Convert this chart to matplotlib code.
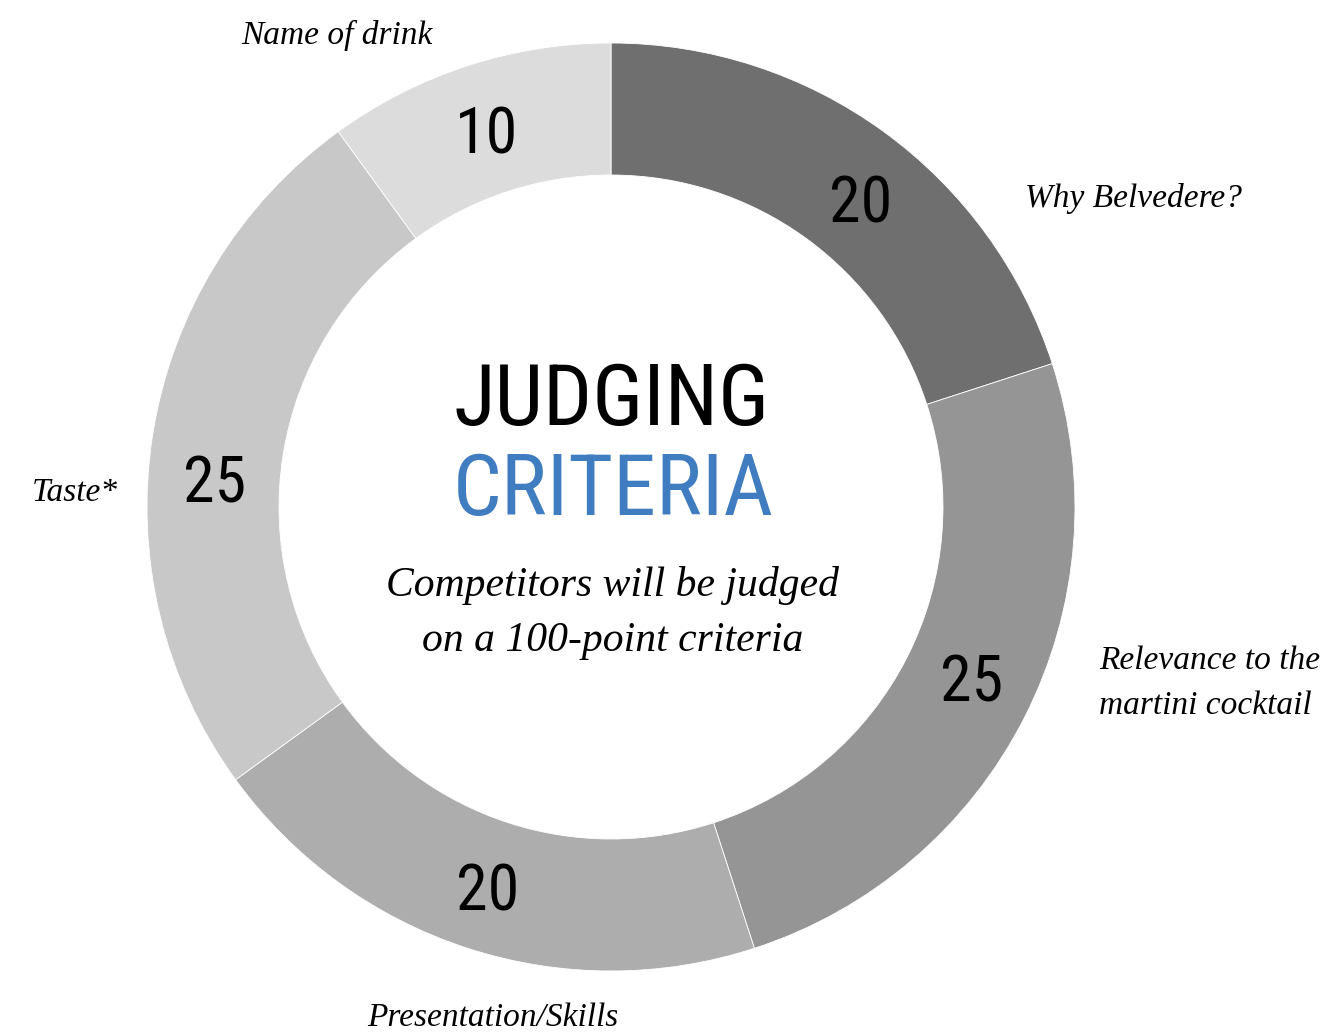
import numpy as np
import matplotlib
matplotlib.use("Agg")
import matplotlib.pyplot as plt

# data, clockwise from 12 o'clock
criteria = ["Why Belvedere?", "Relevance to the\nmartini cocktail",
            "Presentation/Skills", "Taste*", "Name of drink"]
points = [20, 25, 20, 25, 10]
shades = ["#6f6f6f", "#959595", "#adadad", "#c8c8c8", "#dcdcdc"]

cond = ["Roboto Condensed", "DejaVu Sans"]
serif = ["Liberation Serif", "DejaVu Serif"]

W, H = 1322, 1035
fig = plt.figure(figsize=(W / 100, H / 100), dpi=100)
ax = fig.add_axes([0, 0, 1, 1])

cx, cy = 611, H - 507
R, ring = 464, 132
wedges, _ = ax.pie(points, colors=shades, startangle=90, counterclock=False,
                   radius=R, center=(cx, cy), frame=True,
                   wedgeprops=dict(width=ring, linewidth=0.6, edgecolor="white"))
ax.set_xlim(0, W)
ax.set_ylim(0, H)
ax.set_aspect("equal")
ax.axis("off")

# numbers on the ring (small hand nudges off the wedge middle, like the original)
nudge = [-2.9, 1.8, 0.0, 4.7, 0.2]
r_lab = 398
for w, p, d in zip(wedges, points, nudge):
    ang = np.deg2rad((w.theta1 + w.theta2) / 2 + d)
    x = cx + r_lab * np.cos(ang)
    y = cy + r_lab * np.sin(ang)
    ax.text(x, y - 25, str(p), fontsize=46, family=cond, color="black",
            ha="center", va="baseline")

# outer labels
lab_pos = [(1025, 198, "left"), (1099, 683, "left"), (493, 1018, "center"),
           (75, 493, "center"), (337, 35, "center")]
for name, (x, y, ha) in zip(criteria, lab_pos):
    ax.text(x, H - y, name, fontsize=24, style="italic", family=serif,
            ha=ha, va="center", linespacing=1.6)

# centre title
ax.text(611, H - 425, "JUDGING", fontsize=62, family=cond, color="black",
        ha="center", va="baseline")
ax.text(613, H - 515, "CRITERIA", fontsize=62, family=cond, color="#3f7cc0",
        ha="center", va="baseline")

ax.text(613, H - 613, "Competitors will be judged\non a 100-point criteria",
        fontsize=30, style="italic", family=serif, ha="center", va="center",
        linespacing=1.55)

fig.savefig("out.png", dpi=100)
